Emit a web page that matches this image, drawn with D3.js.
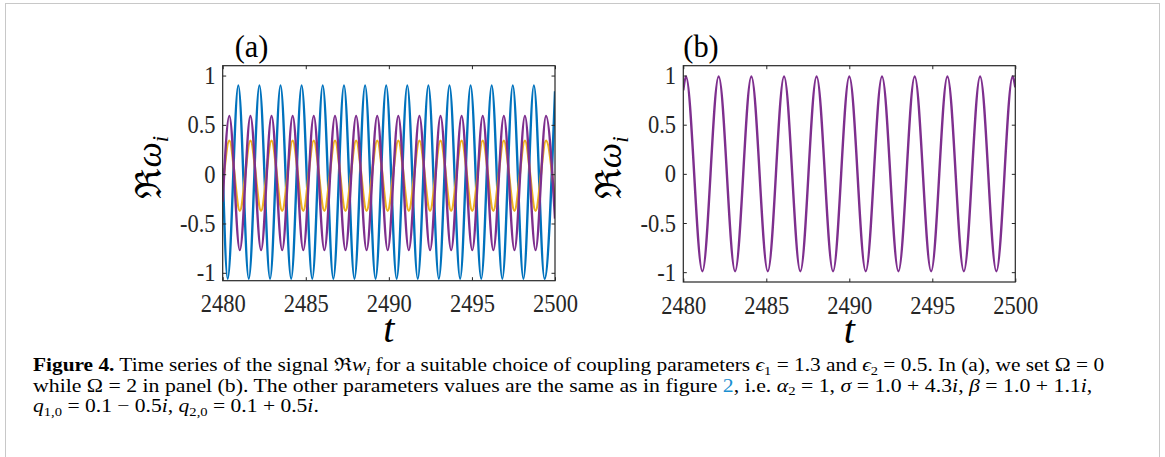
<!DOCTYPE html>
<html>
<head>
<meta charset="utf-8">
<script src="https://cdn.jsdelivr.net/npm/d3@7/dist/d3.min.js"></script>
<style>
  html, body { margin: 0; padding: 0; background: #fff; }
  svg { display: block; }
</style>
</head>
<body>
<svg id="fig" width="1165" height="457"></svg>
<script>
// Figure 4: time series of Re w_i, panel (a) Omega = 0, panel (b) Omega = 2.
// Series as [t, value] at the turning points (plus the two ends).

const xTicks = [2480, 2485, 2490, 2495, 2500];
const yTicks = [-1, -0.5, 0, 0.5, 1];
const xTickLabels = ['2480', '2485', '2490', '2495', '2500'];
const yTickLabels = ['-1', '-0.5', '0', '0.5', '1'];

// panel (a) – blue oscillator
const blueA = [
  [2480, 0.06], [2480.30, -1.06], [2480.94, 0.90], [2481.57, -1.06], [2482.21, 0.90],
  [2482.85, -1.06], [2483.48, 0.90], [2484.12, -1.06], [2484.75, 0.90], [2485.39, -1.06],
  [2486.02, 0.90], [2486.66, -1.06], [2487.30, 0.90], [2487.93, -1.06], [2488.57, 0.90],
  [2489.20, -1.06], [2489.84, 0.90], [2490.47, -1.06], [2491.11, 0.90], [2491.74, -1.06],
  [2492.38, 0.90], [2493.01, -1.06], [2493.65, 0.90], [2494.29, -1.06], [2494.92, 0.90],
  [2495.56, -1.06], [2496.19, 0.90], [2496.83, -1.06], [2497.46, 0.90], [2498.10, -1.06],
  [2498.73, 0.90], [2499.37, -1.06], [2500, 0.84]
];

// panel (a) – yellow oscillator
const yellowA = [
  [2480, -0.14], [2480.40, 0.34], [2481.03, -0.37], [2481.67, 0.34], [2482.31, -0.37],
  [2482.94, 0.34], [2483.58, -0.37], [2484.21, 0.34], [2484.85, -0.37], [2485.48, 0.34],
  [2486.12, -0.37], [2486.76, 0.34], [2487.39, -0.37], [2488.03, 0.34], [2488.66, -0.37],
  [2489.30, 0.34], [2489.93, -0.37], [2490.57, 0.34], [2491.20, -0.37], [2491.84, 0.34],
  [2492.48, -0.37], [2493.11, 0.34], [2493.75, -0.37], [2494.38, 0.34], [2495.02, -0.37],
  [2495.65, 0.34], [2496.29, -0.37], [2496.92, 0.34], [2497.56, -0.37], [2498.19, 0.34],
  [2498.83, -0.37], [2499.46, 0.34], [2500, -0.28]
];

// panel (a) – purple oscillator
const purpleA = [
  [2480, -0.28], [2480.40, 0.59], [2481.03, -0.77], [2481.67, 0.59], [2482.31, -0.77],
  [2482.94, 0.59], [2483.58, -0.77], [2484.21, 0.59], [2484.85, -0.77], [2485.48, 0.59],
  [2486.12, -0.77], [2486.76, 0.59], [2487.39, -0.77], [2488.03, 0.59], [2488.66, -0.77],
  [2489.30, 0.59], [2489.93, -0.77], [2490.57, 0.59], [2491.20, -0.77], [2491.84, 0.59],
  [2492.48, -0.77], [2493.11, 0.59], [2493.75, -0.77], [2494.38, 0.59], [2495.02, -0.77],
  [2495.65, 0.59], [2496.29, -0.77], [2496.92, 0.59], [2497.56, -0.77], [2498.19, 0.59],
  [2498.83, -0.77], [2499.46, 0.59], [2500, -0.45]
];

// panel (b) – all oscillators coincide (purple on top)
const purpleB = [
  [2480, 0.85], [2480.16, 0.99], [2481.15, -0.99], [2482.13, 0.99], [2483.12, -0.99],
  [2484.10, 0.99], [2485.09, -0.99], [2486.07, 0.99], [2487.05, -0.99], [2488.03, 0.99],
  [2489.02, -0.99], [2490.00, 0.99], [2490.99, -0.99], [2491.97, 0.99], [2492.96, -0.99],
  [2493.94, 0.99], [2494.93, -0.99], [2495.91, 0.99], [2496.90, -0.99], [2497.88, 0.99],
  [2498.86, -0.99], [2499.84, 0.99], [2500, 0.88]
];

const COLORS = { blue: '#0072BD', yellow: '#EDB120', purple: '#7E2F8E' };
const AXIS_COLOR = '#262626';
const SERIF = '"Liberation Serif", "DejaVu Serif", serif';
const SQUEEZE = 0.9; // the reference glyphs are a little narrower than Times

const svg = d3.select('#fig');

// light frame round the figure
svg.append('rect')
  .attr('x', 5.5).attr('y', 3.5).attr('width', 1154).attr('height', 470)
  .attr('fill', 'none').attr('stroke', '#c8c8c8').attr('stroke-width', 1);

function drawPanel(opts) {
  const { id, left, top, width, height, yDomain, series, title, titleX } = opts;

  const x = d3.scaleLinear().domain([2480, 2500]).range([0, width]);
  const y = d3.scaleLinear().domain(yDomain).range([height, 0]);

  const g = svg.append('g').attr('transform', `translate(${left},${top})`);

  svg.append('clipPath').attr('id', 'clip-' + id)
    .append('rect').attr('x', 0).attr('y', 0).attr('width', width).attr('height', height);

  const line = d3.line()
    .x(d => x(d[0]))
    .y(d => y(d[1]))
    .curve(d3.curveMonotoneX);

  const plot = g.append('g').attr('clip-path', `url(#clip-${id})`);
  series.forEach(s => {
    plot.append('path')
      .datum(s.data)
      .attr('fill', 'none')
      .attr('stroke', s.color)
      .attr('stroke-width', 2.4)
      .attr('stroke-linejoin', 'round')
      .attr('d', line);
  });

  const tickLen = 3.5;
  const fmtX = (d, i) => xTickLabels[i];
  const fmtY = (d, i) => yTickLabels[i];

  // bottom + left axes with inward ticks
  g.append('g').attr('transform', `translate(0,${height})`)
    .call(d3.axisBottom(x).tickValues(xTicks).tickFormat(fmtX).tickSizeInner(-tickLen).tickSizeOuter(0).tickPadding(14));
  g.append('g')
    .call(d3.axisLeft(y).tickValues(yTicks).tickFormat(fmtY).tickSizeInner(-tickLen).tickSizeOuter(0).tickPadding(8));
  // top + right mirror ticks
  g.append('g').call(d3.axisTop(x).tickValues(xTicks).tickFormat('').tickSizeInner(-tickLen).tickSizeOuter(0));
  g.append('g').attr('transform', `translate(${width},0)`)
    .call(d3.axisRight(y).tickValues(yTicks).tickFormat('').tickSizeInner(-tickLen).tickSizeOuter(0));

  g.selectAll('.domain').remove();
  g.selectAll('.tick line').attr('stroke', AXIS_COLOR).attr('stroke-width', 1);
  g.selectAll('.tick text')
    .attr('fill', AXIS_COLOR)
    .attr('transform', `scale(${SQUEEZE},1)`)
    .style('font-family', SERIF)
    .style('font-size', '25px');

  // box
  g.append('rect').attr('width', width).attr('height', height)
    .attr('fill', 'none').attr('stroke', AXIS_COLOR).attr('stroke-width', 1.2);

  // panel title
  g.append('text')
    .attr('transform', `translate(${titleX},-9) scale(${SQUEEZE + 0.05},1)`)
    .style('font-family', SERIF).style('font-size', '32px')
    .attr('fill', '#000')
    .text(title);

  // x label
  g.append('text')
    .attr('x', width / 2).attr('y', height + 61)
    .attr('text-anchor', 'middle')
    .style('font-family', SERIF).style('font-size', '40px').style('font-style', 'italic')
    .attr('fill', '#000')
    .text('t');

  // y label  ℜω_i
  const yl = g.append('text')
    .attr('transform', `translate(-62,${height / 2 - 6}) rotate(-90)`)
    .attr('text-anchor', 'middle')
    .style('font-family', SERIF).style('font-size', '36px')
    .attr('fill', '#000');
  yl.append('tspan').text('ℜ');
  yl.append('tspan').style('font-style', 'italic').text('ω');
  yl.append('tspan').style('font-style', 'italic').style('font-size', '23px').attr('dy', 7).text('i');
}

drawPanel({
  id: 'a', left: 222.7, top: 65.7, width: 332.3, height: 215,
  yDomain: [-1.08, 1.1],
  series: [
    { data: blueA, color: COLORS.blue },
    { data: yellowA, color: COLORS.yellow },
    { data: purpleA, color: COLORS.purple }
  ],
  title: '(a)', titleX: 12
});

drawPanel({
  id: 'b', left: 683.3, top: 65.7, width: 332, height: 216.3,
  yDomain: [-1.1, 1.1],
  series: [
    { data: purpleB, color: COLORS.purple }
  ],
  title: '(b)', titleX: 0
});

// caption
const captionLines = [
  [
    ['Figure 4.', 'b'], [' Time series of the signal ℜ'], ['w', 'i'], ['i', 'si'],
    [' for a suitable choice of coupling parameters '], ['ϵ', 'i'], ['1', 's'], [' = 1.3 and '],
    ['ϵ', 'i'], ['2', 's'], [' = 0.5. In (a), we set Ω = 0']
  ],
  [
    ['while Ω = 2 in panel (b). The other parameters values are the same as in figure '],
    ['2', 'link'], [', i.e. '], ['α', 'i'], ['2', 's'], [' = 1, '], ['σ', 'i'], [' = 1.0 + 4.3'],
    ['i', 'i'], [', '], ['β', 'i'], [' = 1.0 + 1.1'], ['i', 'i'], [',']
  ],
  [
    ['q', 'i'], ['1,0', 's'], [' = 0.1 − 0.5'], ['i', 'i'], [', '], ['q', 'i'], ['2,0', 's'],
    [' = 0.1 + 0.5'], ['i', 'i'], ['.']
  ]
];
const captionBaselines = [371, 391.7, 412.3];
const captionWidths = [1072, 1060, 236];
const captionLeft = 33;

const capTexts = captionLines.map(segs => {
  const t = svg.append('text')
    .style('font-family', SERIF).style('font-size', '18.5px')
    .attr('fill', '#000');
  let shifted = false;
  segs.forEach(([txt, st]) => {
    const sp = t.append('tspan').text(txt);
    const isSub = st === 's' || st === 'si';
    if (st === 'b') sp.style('font-weight', 'bold');
    if (st === 'i' || st === 'si') sp.style('font-style', 'italic');
    if (st === 'link') sp.attr('fill', '#1a8fd0');
    if (isSub) sp.style('font-size', '12.5px');
    if (isSub && !shifted) { sp.attr('dy', 3.5); shifted = true; }
    else if (!isSub && shifted) { sp.attr('dy', -3.5); shifted = false; }
  });
  return t;
});

// the two full lines are squeezed to their widths in the reference;
// the short last line uses the same squeeze and wider (math) spaces
const sxs = capTexts.slice(0, 2).map((t, i) => captionWidths[i] / t.node().getComputedTextLength());
const sxMean = d3.mean(sxs);
capTexts.forEach((t, li) => {
  const sx = li < 2 ? sxs[li] : sxMean;
  if (li === 2) {
    const nSpaces = t.text().split(' ').length - 1;
    const extra = (captionWidths[li] / sx - t.node().getComputedTextLength()) / nSpaces;
    t.style('word-spacing', Math.max(0, extra) + 'px');
  }
  t.attr('transform', `translate(${captionLeft},${captionBaselines[li]}) scale(${sx},1)`);
});
</script>
</body>
</html>
